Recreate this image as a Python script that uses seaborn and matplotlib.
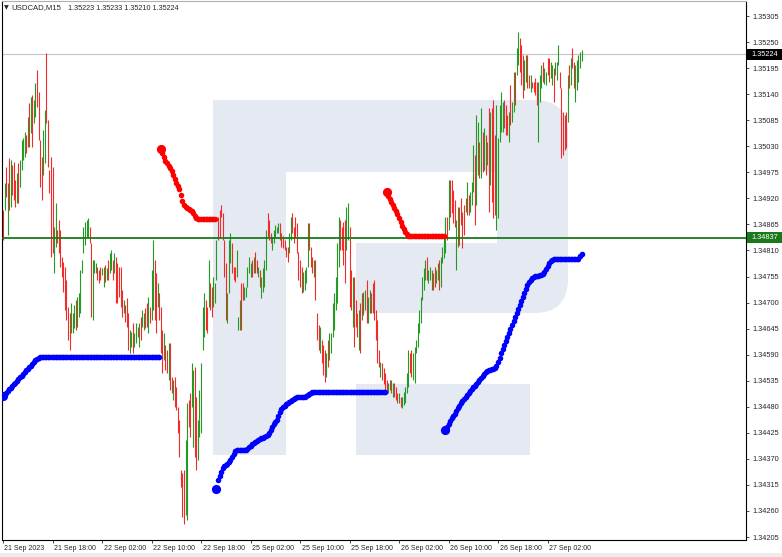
import numpy as np
import pandas as pd
import matplotlib
matplotlib.use("Agg")
import matplotlib.pyplot as plt
import seaborn as sns
from matplotlib.patches import Rectangle, FancyBboxPatch
from matplotlib.transforms import Affine2D, ScaledTranslation, blended_transform_factory

# USDCAD M15 bars, 21 Sep 2023 10:00 onwards
symbol = "USDCAD,M15"
first_bar = "2023-09-21 10:00"
last_open = 1.35223

highs = [
    1.34896, 1.34953, 1.34986, 1.34953, 1.35005, 1.35001, 1.34990, 1.34997, 1.34959, 1.34974,
    1.34995, 1.35001, 1.35043, 1.35047, 1.35060, 1.35054, 1.35092, 1.35121, 1.35134, 1.35138,
    1.35128, 1.35164, 1.35191, 1.35145, 1.35043, 1.35007, 1.35064, 1.35107, 1.35227, 1.35085,
    1.34980, 1.35007, 1.34986, 1.34860, 1.34910, 1.34853, 1.34874, 1.34853, 1.34796, 1.34786,
    1.34775, 1.34748, 1.34691, 1.34678, 1.34699, 1.34678, 1.34695, 1.34705, 1.34712, 1.34720,
    1.34769, 1.34790, 1.34860, 1.34870, 1.34874, 1.34879, 1.34860, 1.34826, 1.34790, 1.34790,
    1.34784, 1.34775, 1.34769, 1.34775, 1.34773, 1.34775, 1.34779, 1.34773, 1.34790, 1.34805,
    1.34811, 1.34790, 1.34805, 1.34796, 1.34784, 1.34775, 1.34775, 1.34727, 1.34705, 1.34695,
    1.34710, 1.34678, 1.34642, 1.34638, 1.34657, 1.34636, 1.34657, 1.34648, 1.34657, 1.34670,
    1.34684, 1.34678, 1.34689, 1.34699, 1.34712, 1.34691, 1.34769, 1.34832, 1.34790, 1.34762,
    1.34741, 1.34720, 1.34691, 1.34642, 1.34636, 1.34610, 1.34600, 1.34615, 1.34615, 1.34543,
    1.34537, 1.34543, 1.34522, 1.34480, 1.34452, 1.34347, 1.34340, 1.34347, 1.34410, 1.34488,
    1.34494, 1.34509, 1.34572, 1.34558, 1.34564, 1.34501, 1.34452, 1.34516, 1.34572, 1.34691,
    1.34720, 1.34705, 1.34691, 1.34790, 1.34741, 1.34733, 1.34754, 1.34741, 1.34832, 1.34881,
    1.34896, 1.34906, 1.34889, 1.34832, 1.34784, 1.34720, 1.34832, 1.34847, 1.34826, 1.34775,
    1.34775, 1.34811, 1.34670, 1.34705, 1.34741, 1.34741, 1.34733, 1.34733, 1.34775, 1.34796,
    1.34784, 1.34790, 1.34796, 1.34807, 1.34790, 1.34775, 1.34769, 1.34754, 1.34773, 1.34790,
    1.34853, 1.34889, 1.34874, 1.34847, 1.34838, 1.34853, 1.34864, 1.34860, 1.34868, 1.34868,
    1.34847, 1.34841, 1.34832, 1.34817, 1.34817, 1.34847, 1.34881, 1.34889, 1.34860, 1.34881,
    1.34868, 1.34807, 1.34790, 1.34775, 1.34765, 1.34769, 1.34775, 1.34868, 1.34868, 1.34817,
    1.34796, 1.34790, 1.34790, 1.34678, 1.34653, 1.34648, 1.34621, 1.34610, 1.34600, 1.34594,
    1.34621, 1.34636, 1.34636, 1.34699, 1.34720, 1.34754, 1.34826, 1.34881, 1.34874, 1.34860,
    1.34870, 1.34874, 1.34902, 1.34910, 1.34860, 1.34769, 1.34754, 1.34754, 1.34705, 1.34678,
    1.34684, 1.34699, 1.34720, 1.34722, 1.34727, 1.34748, 1.34712, 1.34727, 1.34720, 1.34741,
    1.34748, 1.34684, 1.34663, 1.34600, 1.34575, 1.34572, 1.34562, 1.34551, 1.34537, 1.34530,
    1.34537, 1.34537, 1.34530, 1.34530, 1.34522, 1.34509, 1.34509, 1.34501, 1.34501, 1.34511,
    1.34522, 1.34551, 1.34600, 1.34594, 1.34600, 1.34594, 1.34606, 1.34621, 1.34657, 1.34684,
    1.34712, 1.34754, 1.34773, 1.34790, 1.34796, 1.34769, 1.34775, 1.34769, 1.34762, 1.34775,
    1.34769, 1.34784, 1.34790, 1.34796, 1.34817, 1.34843, 1.34881, 1.34881, 1.34959, 1.34959,
    1.34959, 1.34938, 1.34917, 1.34874, 1.34902, 1.34902, 1.34921, 1.34891, 1.34906, 1.34921,
    1.34955, 1.34927, 1.34934, 1.34955, 1.35033, 1.35012, 1.35096, 1.35081, 1.35039, 1.35111,
    1.35060, 1.35069, 1.35054, 1.35039, 1.35111, 1.35102, 1.35111, 1.35128, 1.35054, 1.35117,
    1.35047, 1.35117, 1.35145, 1.35123, 1.35128, 1.35117, 1.35096, 1.35102, 1.35159, 1.35123,
    1.35187, 1.35187, 1.35237, 1.35271, 1.35259, 1.35244, 1.35223, 1.35212, 1.35223, 1.35223,
    1.35180, 1.35180, 1.35166, 1.35166, 1.35174, 1.35166, 1.35166, 1.35180, 1.35202, 1.35208,
    1.35195, 1.35187, 1.35216, 1.35216, 1.35208, 1.35202, 1.35195, 1.35208, 1.35208, 1.35244,
    1.35187, 1.35153, 1.35102, 1.35096, 1.35102, 1.35180, 1.35202, 1.35216, 1.35237, 1.35208,
    1.35202, 1.35212, 1.35223, 1.35229, 1.35233,
]

lows = [
    1.34832, 1.34896, 1.34923, 1.34843, 1.34896, 1.34902, 1.34927, 1.34917, 1.34902, 1.34910,
    1.34910, 1.34944, 1.34980, 1.35001, 1.35007, 1.35016, 1.35028, 1.35028, 1.35058, 1.35028,
    1.35079, 1.35092, 1.35113, 1.35043, 1.34944, 1.34917, 1.34969, 1.34995, 1.35079, 1.34986,
    1.34931, 1.34796, 1.34805, 1.34762, 1.34817, 1.34826, 1.34805, 1.34775, 1.34754, 1.34722,
    1.34684, 1.34663, 1.34621, 1.34600, 1.34636, 1.34636, 1.34646, 1.34642, 1.34648, 1.34670,
    1.34678, 1.34762, 1.34805, 1.34822, 1.34838, 1.34838, 1.34826, 1.34670, 1.34663, 1.34762,
    1.34762, 1.34748, 1.34741, 1.34748, 1.34758, 1.34733, 1.34743, 1.34748, 1.34748, 1.34762,
    1.34769, 1.34748, 1.34762, 1.34699, 1.34699, 1.34712, 1.34691, 1.34670, 1.34678, 1.34659,
    1.34648, 1.34600, 1.34594, 1.34606, 1.34594, 1.34606, 1.34615, 1.34627, 1.34606, 1.34621,
    1.34648, 1.34642, 1.34646, 1.34648, 1.34636, 1.34657, 1.34663, 1.34684, 1.34663, 1.34636,
    1.34691, 1.34663, 1.34594, 1.34551, 1.34579, 1.34558, 1.34551, 1.34537, 1.34516, 1.34509,
    1.34494, 1.34480, 1.34473, 1.34425, 1.34374, 1.34311, 1.34247, 1.34233, 1.34252, 1.34241,
    1.34437, 1.34416, 1.34480, 1.34395, 1.34374, 1.34347, 1.34368, 1.34416, 1.34425, 1.34600,
    1.34627, 1.34642, 1.34636, 1.34691, 1.34684, 1.34670, 1.34691, 1.34699, 1.34748, 1.34832,
    1.34838, 1.34881, 1.34832, 1.34754, 1.34663, 1.34657, 1.34720, 1.34784, 1.34762, 1.34748,
    1.34743, 1.34754, 1.34642, 1.34642, 1.34642, 1.34705, 1.34705, 1.34712, 1.34733, 1.34762,
    1.34754, 1.34754, 1.34762, 1.34762, 1.34762, 1.34754, 1.34733, 1.34710, 1.34722, 1.34733,
    1.34769, 1.34838, 1.34832, 1.34826, 1.34811, 1.34826, 1.34838, 1.34847, 1.34847, 1.34832,
    1.34817, 1.34815, 1.34811, 1.34796, 1.34786, 1.34805, 1.34832, 1.34847, 1.34826, 1.34838,
    1.34805, 1.34748, 1.34733, 1.34720, 1.34722, 1.34727, 1.34741, 1.34775, 1.34811, 1.34775,
    1.34762, 1.34754, 1.34705, 1.34621, 1.34600, 1.34594, 1.34572, 1.34547, 1.34532, 1.34543,
    1.34564, 1.34579, 1.34594, 1.34627, 1.34642, 1.34684, 1.34699, 1.34775, 1.34811, 1.34811,
    1.34779, 1.34741, 1.34811, 1.34832, 1.34691, 1.34684, 1.34648, 1.34606, 1.34648, 1.34627,
    1.34600, 1.34594, 1.34663, 1.34674, 1.34684, 1.34657, 1.34657, 1.34678, 1.34678, 1.34678,
    1.34663, 1.34621, 1.34572, 1.34564, 1.34543, 1.34537, 1.34528, 1.34516, 1.34509, 1.34509,
    1.34516, 1.34509, 1.34501, 1.34501, 1.34494, 1.34488, 1.34488, 1.34480, 1.34478, 1.34484,
    1.34488, 1.34509, 1.34522, 1.34551, 1.34543, 1.34537, 1.34530, 1.34594, 1.34606, 1.34636,
    1.34657, 1.34705, 1.34727, 1.34748, 1.34748, 1.34741, 1.34748, 1.34727, 1.34727, 1.34733,
    1.34741, 1.34748, 1.34727, 1.34733, 1.34784, 1.34794, 1.34805, 1.34832, 1.34853, 1.34881,
    1.34889, 1.34868, 1.34860, 1.34769, 1.34817, 1.34822, 1.34864, 1.34815, 1.34843, 1.34891,
    1.34885, 1.34885, 1.34891, 1.34906, 1.34934, 1.34864, 1.34906, 1.34969, 1.34963, 1.34963,
    1.34976, 1.34980, 1.34969, 1.34990, 1.34891, 1.34948, 1.34912, 1.34879, 1.34885, 1.34853,
    1.34879, 1.35039, 1.35060, 1.35060, 1.35069, 1.35054, 1.35054, 1.35039, 1.35075, 1.35081,
    1.35102, 1.35117, 1.35180, 1.35202, 1.35187, 1.35159, 1.35132, 1.35149, 1.35166, 1.35153,
    1.35153, 1.35145, 1.35153, 1.35145, 1.35138, 1.35117, 1.35039, 1.35123, 1.35153, 1.35166,
    1.35161, 1.35159, 1.35180, 1.35166, 1.35174, 1.35159, 1.35123, 1.35180, 1.35170, 1.35202,
    1.35153, 1.35005, 1.35012, 1.35022, 1.35026, 1.35081, 1.35153, 1.35159, 1.35195, 1.35153,
    1.35123, 1.35149, 1.35166, 1.35195, 1.35210,
]

closes = [
    1.34832, 1.34953, 1.34923, 1.34953, 1.34896, 1.35001, 1.34927, 1.34917, 1.34902, 1.34974,
    1.34910, 1.35001, 1.35043, 1.35047, 1.35060, 1.35016, 1.35092, 1.35028, 1.35134, 1.35028,
    1.35128, 1.35164, 1.35113, 1.35043, 1.34944, 1.34917, 1.35064, 1.35107, 1.35079, 1.34986,
    1.34931, 1.34796, 1.34805, 1.34860, 1.34910, 1.34826, 1.34805, 1.34775, 1.34754, 1.34722,
    1.34684, 1.34663, 1.34621, 1.34600, 1.34699, 1.34678, 1.34695, 1.34642, 1.34712, 1.34720,
    1.34769, 1.34790, 1.34860, 1.34870, 1.34874, 1.34879, 1.34826, 1.34670, 1.34790, 1.34790,
    1.34784, 1.34748, 1.34741, 1.34748, 1.34773, 1.34775, 1.34743, 1.34773, 1.34748, 1.34805,
    1.34811, 1.34748, 1.34805, 1.34699, 1.34699, 1.34712, 1.34691, 1.34670, 1.34705, 1.34659,
    1.34648, 1.34600, 1.34642, 1.34638, 1.34594, 1.34636, 1.34657, 1.34627, 1.34657, 1.34621,
    1.34684, 1.34678, 1.34646, 1.34648, 1.34712, 1.34657, 1.34769, 1.34832, 1.34663, 1.34636,
    1.34741, 1.34663, 1.34594, 1.34551, 1.34636, 1.34558, 1.34551, 1.34615, 1.34516, 1.34509,
    1.34537, 1.34480, 1.34473, 1.34425, 1.34374, 1.34311, 1.34247, 1.34233, 1.34410, 1.34488,
    1.34437, 1.34416, 1.34572, 1.34558, 1.34374, 1.34347, 1.34452, 1.34516, 1.34572, 1.34691,
    1.34720, 1.34642, 1.34636, 1.34790, 1.34684, 1.34670, 1.34754, 1.34741, 1.34832, 1.34832,
    1.34838, 1.34881, 1.34832, 1.34754, 1.34663, 1.34720, 1.34832, 1.34847, 1.34762, 1.34748,
    1.34743, 1.34811, 1.34670, 1.34705, 1.34642, 1.34705, 1.34733, 1.34733, 1.34775, 1.34796,
    1.34784, 1.34754, 1.34796, 1.34762, 1.34762, 1.34775, 1.34733, 1.34754, 1.34773, 1.34790,
    1.34853, 1.34838, 1.34832, 1.34826, 1.34838, 1.34853, 1.34864, 1.34860, 1.34868, 1.34832,
    1.34817, 1.34815, 1.34811, 1.34796, 1.34786, 1.34847, 1.34881, 1.34847, 1.34826, 1.34838,
    1.34805, 1.34748, 1.34733, 1.34720, 1.34765, 1.34769, 1.34775, 1.34868, 1.34811, 1.34775,
    1.34762, 1.34790, 1.34705, 1.34621, 1.34600, 1.34648, 1.34572, 1.34547, 1.34532, 1.34594,
    1.34564, 1.34636, 1.34636, 1.34699, 1.34720, 1.34754, 1.34826, 1.34881, 1.34811, 1.34811,
    1.34779, 1.34741, 1.34902, 1.34910, 1.34691, 1.34684, 1.34754, 1.34606, 1.34648, 1.34627,
    1.34684, 1.34594, 1.34720, 1.34674, 1.34727, 1.34657, 1.34712, 1.34727, 1.34678, 1.34678,
    1.34663, 1.34621, 1.34572, 1.34564, 1.34575, 1.34537, 1.34528, 1.34516, 1.34509, 1.34530,
    1.34537, 1.34509, 1.34530, 1.34501, 1.34494, 1.34488, 1.34509, 1.34480, 1.34501, 1.34511,
    1.34522, 1.34551, 1.34600, 1.34551, 1.34543, 1.34594, 1.34606, 1.34621, 1.34657, 1.34684,
    1.34712, 1.34754, 1.34773, 1.34790, 1.34748, 1.34769, 1.34775, 1.34769, 1.34727, 1.34733,
    1.34769, 1.34784, 1.34727, 1.34796, 1.34817, 1.34843, 1.34881, 1.34832, 1.34959, 1.34881,
    1.34889, 1.34868, 1.34860, 1.34874, 1.34817, 1.34902, 1.34864, 1.34815, 1.34843, 1.34891,
    1.34955, 1.34885, 1.34934, 1.34955, 1.35033, 1.34864, 1.35096, 1.35081, 1.34963, 1.35111,
    1.34976, 1.35069, 1.34969, 1.35039, 1.34891, 1.35102, 1.34912, 1.34879, 1.34885, 1.35117,
    1.35047, 1.35117, 1.35145, 1.35123, 1.35069, 1.35054, 1.35054, 1.35102, 1.35075, 1.35123,
    1.35187, 1.35117, 1.35237, 1.35271, 1.35187, 1.35159, 1.35132, 1.35212, 1.35223, 1.35153,
    1.35153, 1.35180, 1.35153, 1.35145, 1.35138, 1.35117, 1.35166, 1.35180, 1.35202, 1.35166,
    1.35195, 1.35187, 1.35180, 1.35166, 1.35208, 1.35202, 1.35123, 1.35208, 1.35208, 1.35244,
    1.35153, 1.35005, 1.35012, 1.35022, 1.35026, 1.35180, 1.35153, 1.35216, 1.35195, 1.35153,
    1.35202, 1.35212, 1.35223, 1.35229, 1.35224,
]

# trailing stop indicator: blue segments below price, red above
support_start = [0, 138, 286]
support_1 = [
    1.34503, 1.34507, 1.34509, 1.34513, 1.34518, 1.34520, 1.34524, 1.34528, 1.34530, 1.34535,
    1.34539, 1.34543, 1.34545, 1.34549, 1.34554, 1.34558, 1.34560, 1.34564, 1.34566, 1.34570,
    1.34575, 1.34579, 1.34581, 1.34583,
] + [1.34585] * 78
support_2 = [
    1.34307, 1.34326, 1.34334, 1.34342, 1.34351, 1.34355, 1.34357, 1.34359, 1.34364, 1.34368,
    1.34374, 1.34380, 1.34387,
] + [1.34389] * 7 + [
    1.34391, 1.34395, 1.34397, 1.34402, 1.34404, 1.34406, 1.34408, 1.34410, 1.34412, 1.34414,
    1.34414, 1.34416, 1.34418, 1.34421, 1.34425, 1.34431, 1.34437, 1.34444, 1.34448, 1.34452,
    1.34461, 1.34469, 1.34475, 1.34480, 1.34482, 1.34486, 1.34488, 1.34490, 1.34492, 1.34494,
    1.34497, 1.34499,
] + [1.34501] * 6 + [1.34503, 1.34505, 1.34507, 1.34509] + [1.34511] * 48
support_3 = [
    1.34431, 1.34437, 1.34444, 1.34450, 1.34456, 1.34461, 1.34465, 1.34471, 1.34478, 1.34482,
    1.34488, 1.34492, 1.34497, 1.34501, 1.34505, 1.34509, 1.34513, 1.34518, 1.34522, 1.34524,
    1.34528, 1.34532, 1.34537, 1.34541, 1.34545, 1.34549, 1.34554, 1.34556, 1.34558, 1.34558,
    1.34560, 1.34560, 1.34562, 1.34566, 1.34575, 1.34583, 1.34594, 1.34602, 1.34610, 1.34619,
    1.34627, 1.34636, 1.34644, 1.34653, 1.34661, 1.34670, 1.34678, 1.34687, 1.34695, 1.34703,
    1.34712, 1.34720, 1.34729, 1.34737, 1.34744, 1.34748, 1.34752, 1.34754, 1.34756, 1.34756,
    1.34756, 1.34758, 1.34758, 1.34760, 1.34765, 1.34771, 1.34777, 1.34784, 1.34788, 1.34790,
] + [1.34792] * 17 + [1.34798, 1.34803]

resist_start = [102, 248]
resist_1 = [
    1.35024, 1.35016, 1.35007, 1.34999, 1.34995, 1.34988, 1.34984, 1.34978, 1.34969, 1.34961,
    1.34953, 1.34946, 1.34940, 1.34927, 1.34915, 1.34906, 1.34902, 1.34900, 1.34898, 1.34896,
    1.34893, 1.34889, 1.34883, 1.34879,
] + [1.34877] * 12
resist_2 = [
    1.34934, 1.34925, 1.34919, 1.34912, 1.34906, 1.34900, 1.34893, 1.34887, 1.34879, 1.34870,
    1.34862, 1.34855, 1.34849, 1.34845, 1.34841,
] + [1.34840] * 23

level_price = 1.34837
price_ticks_from = 1.34205
price_step = 0.00055

# ---------------------------------------------------------------
W, H = 782, 557
sns.set_style("white")
plt.rcParams['font.family'] = ['Liberation Sans', 'DejaVu Sans']

n = len(highs)
bars = pd.DataFrame({'high': highs, 'low': lows, 'close': closes})
bars['idx'] = np.arange(n)
bars['up'] = bars['close'] >= (bars['high'] + bars['low']) / 2

times = pd.date_range(first_bar, periods=2 * n, freq='15min')
times = times[times.dayofweek < 5][:n]

fig = plt.figure(figsize=(W / 100, H / 100), dpi=100)
ax = fig.add_axes([2 / W, 17 / H, 744 / W, 539 / H])
ax.set_facecolor('white')

# pixel space (y down) for the frame decoration and watermark
pix = Affine2D().scale(1, -1).translate(0, H)

wm = '#e4e9f2'
ax.add_patch(FancyBboxPatch((400, 100), 168, 213, boxstyle="round,pad=0,rounding_size=34",
                            transform=pix, facecolor=wm, edgecolor='none', zorder=0.5, clip_on=False))
ax.add_patch(Rectangle((213, 100), 220, 213, transform=pix, facecolor=wm, edgecolor='none', zorder=0.5))
ax.add_patch(Rectangle((213, 100), 73, 355, transform=pix, facecolor=wm, edgecolor='none', zorder=0.5))
ax.add_patch(Rectangle((356, 384), 174, 71, transform=pix, facecolor=wm, edgecolor='none', zorder=0.5))
ax.add_patch(Rectangle((286, 172), 211, 71, transform=pix, facecolor='white', edgecolor='none', zorder=0.6))
ax.add_patch(Rectangle((286, 243), 70, 70, transform=pix, facecolor='white', edgecolor='none', zorder=0.6))

# bars
up_col, dn_col = '#239a23', '#f22a2a'
colors = np.where(bars['up'], up_col, dn_col)
ax.vlines(bars['idx'], bars['low'], bars['high'], colors=colors, linewidth=0.8, zorder=2)

# level lines
bid = closes[-1]
ax.axhline(bid, color='#c4c4c4', linewidth=0.8, zorder=1)
ax.axhline(level_price, color='#1a7a1a', linewidth=1.3, zorder=3)

# trailing stop dots
for start, seg in zip(support_start, [support_1, support_2, support_3]):
    xs = np.arange(start, start + len(seg))
    sns.scatterplot(x=xs, y=seg, ax=ax, color='#0000ff', s=16, linewidth=0, legend=False, zorder=4)
    ax.scatter(xs[0], seg[0], color='#0000ff', s=44, linewidth=0, zorder=4)
for start, seg in zip(resist_start, [resist_1, resist_2]):
    xs = np.arange(start, start + len(seg))
    sns.scatterplot(x=xs, y=seg, ax=ax, color='#ff0000', s=16, linewidth=0, legend=False, zorder=4)
    ax.scatter(xs[0], seg[0], color='#ff0000', s=44, linewidth=0, zorder=4)

# scales: bar spacing about 1.55 px, chart shifted with empty space on the right
px_per_bar = 1.547
ax.set_xlim(-1 / px_per_bar, 743 / px_per_bar)
px_per_price = 521 / (20 * price_step)
ax.set_ylim(1.35305 - 524 / px_per_price, 1.35305 + 15 / px_per_price)

yt = price_ticks_from + price_step * np.arange(21)
ax.set_yticks(yt)
ax.set_yticklabels([f'{v:.5f}' for v in yt])
ax.yaxis.tick_right()
ax.tick_params(axis='y', direction='out', length=2.5, width=0.6, pad=2, labelsize=5.3,
               right=True, left=False, labelright=True, labelleft=False)

lab_idx = [i for i, t in enumerate(times) if t.minute == 0 and t.hour in (2, 10, 18)]
lab_txt = [times[i].strftime('%d %b %Y') if i == 0 else times[i].strftime('%d %b %H:%M') for i in lab_idx]
ax.set_xticks(lab_idx)
ax.set_xticklabels(lab_txt)
ax.tick_params(axis='x', direction='out', length=2.5, width=0.6, pad=1, labelsize=5.0, bottom=True)
shift = ScaledTranslation(1.5 / 100, 0, fig.dpi_scale_trans)
for lab in ax.get_xticklabels():
    lab.set_horizontalalignment('left')
    lab.set_transform(lab.get_transform() + shift)

for side in ['left', 'right', 'bottom']:
    ax.spines[side].set_color('black')
    ax.spines[side].set_linewidth(0.8)
ax.spines['top'].set_color('#b0b0b0')
ax.spines['top'].set_linewidth(0.8)

# price boxes on the scale
per_px = 1 / px_per_price
bt = blended_transform_factory(pix, ax.transData)
for val, face in [(bid, 'black'), (level_price, '#1a7a1a')]:
    ax.add_patch(Rectangle((747, val - 5.5 * per_px), 35, 11 * per_px, transform=bt,
                           facecolor=face, edgecolor='none', clip_on=False, zorder=5))
    ax.text(751, val, f'{val:.5f}', transform=bt, color='white', fontsize=5.3,
            ha='left', va='center', clip_on=False, zorder=6)

# header
fig.text(4, 8, '\u25bc', transform=pix, fontsize=4.5, va='center', ha='left', family=['DejaVu Sans'])
fig.text(11, 8, symbol, transform=pix, fontsize=5.6, va='center', ha='left')
fig.text(68, 8, f'{last_open:.5f} {highs[-1]:.5f} {lows[-1]:.5f} {closes[-1]:.5f}',
         transform=pix, fontsize=5.2, va='center', ha='left')

fig.add_artist(Rectangle((0, 553), W, 4, transform=pix, facecolor='#ececec', edgecolor='none'))

fig.savefig('out.png', dpi=100)
